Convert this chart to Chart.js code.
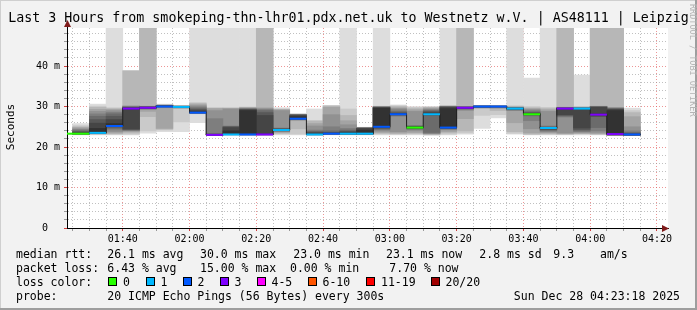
<!DOCTYPE html>
<html>
<head>
<meta charset="utf-8">
<script src="https://cdn.jsdelivr.net/npm/chart.js@4/dist/chart.umd.min.js"></script>
<style>
  html, body { margin: 0; padding: 0; background: #f2f2f2; }
  canvas { display: block; }
</style>
</head>
<body>
<canvas id="myChart" width="697" height="310"></canvas>
<script>
// graph window and 5 minute steps
const graphStart = "01:23:18";
const graphEnd = "04:23:18";
const stepLabels = [
  "01:25", "01:30", "01:35", "01:40", "01:45", "01:50", "01:55",
  "02:00", "02:05", "02:10", "02:15", "02:20", "02:25", "02:30", "02:35", "02:40", "02:45", "02:50", "02:55",
  "03:00", "03:05", "03:10", "03:15", "03:20", "03:25", "03:30", "03:35", "03:40", "03:45", "03:50", "03:55",
  "04:00", "04:05", "04:10",
];
const medians = [
  23.3, 23.5, 25.2, 29.5, 29.7, 30.0, 29.9, 28.5, 23.0, 23.1, 23.1, 23.1, 24.2, 27.0, 23.1, 23.3, 23.3,
  23.3, 25.0, 28.1, 24.8, 28.1, 24.8, 29.7, 30.0, 30.0, 29.5, 28.1, 24.7, 29.5, 29.5, 28.0, 23.2, 23.1,
];
const lossCounts = [
  0, 1, 2, 3, 3, 2, 1, 2, 3, 1, 2, 3, 1, 2, 1, 2, 1, 1, 2, 2, 0, 1, 2, 3, 2, 2, 1, 0, 1, 3, 1, 3, 3, 2,
];
// sorted ping rtts (ms) of each step, 60 = above the top of the graph
const smokePings = [
  [23.0, 23.05, 23.1, 23.1, 23.15, 23.2, 23.2, 23.25, 23.3, 23.3, 23.4, 23.6, 23.8, 24.0, 24.3, 24.5, 24.8, 25.0, 25.3, 25.8],
  [23.0, 23.1, 23.2, 23.3, 23.3, 23.4, 23.4, 23.5, 23.5, 23.5, 24.6, 25.9, 26.8, 27.6, 28.2, 28.8, 29.3, 29.8, 30.1, 30.6],
  [23.0, 23.1, 23.3, 23.5, 23.8, 24.2, 24.6, 24.9, 25.1, 25.2, 25.8, 26.8, 27.6, 28.2, 28.6, 29.0, 29.3, 29.5, 29.7, 60],
  [23.0, 23.2, 23.5, 23.8, 24.0, 24.1, 24.2, 24.3, 24.5, 29.4, 29.6, 29.7, 29.8, 29.9, 30.0, 30.1, 30.2, 38.8, 38.8, 38.8],
  [23.4, 24.0, 27.5, 28.8, 29.3, 29.4, 29.5, 29.6, 29.65, 29.7, 29.8, 29.85, 29.9, 29.95, 30.0, 30.0, 30.1, 60, 60, 60],
  [23.8, 24.2, 24.4, 24.6, 29.7, 29.8, 29.9, 30.0, 30.0, 30.0, 30.1, 30.15, 30.2, 30.2, 30.25, 30.3, 30.35, 30.4, 30.5, 30.6],
  [23.8, 26.2, 29.5, 29.6, 29.7, 29.8, 29.85, 29.9, 29.95, 29.95, 30.0, 30.0, 30.05, 30.05, 30.1, 30.1, 30.1, 30.15, 30.15, 30.2],
  [26.0, 28.2, 28.25, 28.3, 28.35, 28.4, 28.4, 28.45, 28.5, 28.5, 28.7, 29.0, 29.3, 29.6, 29.9, 30.2, 30.5, 30.8, 31.0, 60],
  [22.9, 22.9, 22.95, 22.95, 23.0, 23.0, 23.0, 23.0, 23.0, 23.0, 23.05, 23.1, 23.2, 23.3, 27.0, 29.0, 29.5, 29.6, 29.7, 60],
  [23.0, 23.0, 23.0, 23.0, 23.05, 23.05, 23.1, 23.1, 23.1, 23.1, 24.0, 24.8, 25.0, 25.1, 25.2, 29.4, 29.5, 29.6, 29.7, 60],
  [22.9, 22.9, 22.95, 23.0, 23.0, 23.05, 23.05, 23.1, 23.1, 23.1, 29.0, 29.2, 29.3, 29.4, 29.5, 29.6, 29.7, 29.8, 29.9, 60],
  [22.9, 22.95, 23.0, 23.0, 23.0, 23.05, 23.05, 23.1, 23.1, 23.1, 23.2, 27.8, 28.5, 29.0, 29.3, 29.5, 29.7, 60, 60, 60],
  [23.0, 23.2, 23.4, 23.6, 23.8, 23.9, 24.0, 24.1, 24.15, 24.2, 24.3, 24.4, 24.5, 24.6, 24.7, 29.0, 29.2, 29.3, 29.4, 29.7],
  [23.0, 23.2, 24.5, 26.5, 26.7, 26.8, 26.85, 26.9, 26.95, 27.0, 27.5, 27.8, 27.9, 28.0, 28.0, 28.05, 28.1, 28.1, 28.1, 28.2],
  [22.9, 22.95, 23.0, 23.0, 23.05, 23.05, 23.1, 23.1, 23.1, 23.1, 23.3, 23.5, 23.7, 23.9, 24.2, 25.2, 25.8, 26.4, 26.6, 29.4],
  [23.0, 23.05, 23.1, 23.1, 23.15, 23.2, 23.2, 23.25, 23.3, 23.3, 23.4, 23.5, 23.6, 24.0, 25.0, 28.0, 29.8, 30.1, 30.2, 30.3],
  [23.0, 23.05, 23.1, 23.1, 23.15, 23.2, 23.2, 23.25, 23.3, 23.3, 23.5, 23.7, 23.9, 24.2, 24.6, 25.5, 26.5, 27.8, 29.4, 60],
  [23.0, 23.05, 23.1, 23.1, 23.15, 23.2, 23.2, 23.25, 23.3, 23.3, 24.2, 24.6, 24.65, 24.7, 24.7, 24.75, 24.8, 24.8, 24.85, 24.9],
  [23.0, 23.2, 23.4, 23.6, 23.9, 24.2, 24.4, 24.6, 24.8, 25.0, 29.6, 29.7, 29.8, 29.85, 29.9, 29.95, 30.0, 30.05, 30.1, 60],
  [23.0, 23.1, 23.3, 23.5, 23.8, 27.6, 27.8, 27.9, 28.0, 28.1, 28.2, 28.3, 28.5, 28.8, 29.2, 29.5, 29.7, 30.0, 30.2, 30.4],
  [23.0, 23.2, 23.4, 23.6, 24.0, 24.3, 24.5, 24.6, 24.7, 24.8, 24.9, 25.0, 25.1, 25.2, 25.3, 28.8, 29.2, 29.5, 29.8, 30.0],
  [22.9, 23.0, 23.1, 23.2, 23.3, 23.4, 23.6, 27.8, 28.0, 28.1, 28.3, 28.5, 28.8, 29.0, 29.2, 29.4, 29.6, 29.8, 29.9, 30.0],
  [23.0, 23.2, 23.5, 23.8, 24.2, 24.4, 24.5, 24.6, 24.7, 24.8, 29.5, 29.8, 29.9, 29.95, 30.0, 30.05, 30.1, 30.15, 30.2, 60],
  [23.2, 23.5, 24.0, 27.0, 29.0, 29.3, 29.4, 29.5, 29.6, 29.7, 29.75, 29.8, 29.85, 29.9, 29.95, 30.0, 30.05, 60, 60, 60],
  [24.6, 27.8, 29.6, 29.65, 29.7, 29.75, 29.8, 29.85, 29.9, 29.95, 30.0, 30.05, 30.1, 30.12, 30.15, 30.18, 30.2, 30.25, 30.28, 30.3],
  [27.2, 28.0, 29.0, 29.5, 29.7, 29.8, 29.85, 29.9, 29.93, 29.96, 30.0, 30.03, 30.06, 30.1, 30.13, 30.16, 30.2, 30.23, 30.26, 30.3],
  [23.2, 23.4, 23.8, 26.0, 29.0, 29.1, 29.2, 29.3, 29.4, 29.5, 29.55, 29.6, 29.65, 29.7, 29.75, 29.8, 29.9, 30.0, 30.2, 60],
  [23.0, 23.1, 23.2, 23.5, 24.5, 26.5, 27.7, 27.9, 28.0, 28.1, 28.2, 28.3, 28.5, 28.7, 29.0, 29.3, 29.5, 29.7, 30.0, 37.0],
  [23.0, 23.1, 23.3, 23.5, 23.7, 23.9, 24.1, 24.3, 24.5, 24.7, 24.75, 24.8, 24.9, 25.0, 25.2, 28.8, 29.2, 29.5, 29.8, 60],
  [23.0, 23.1, 23.2, 23.3, 23.5, 27.4, 27.6, 27.8, 28.0, 29.5, 29.55, 29.6, 29.65, 29.7, 29.75, 29.8, 29.85, 60, 60, 60],
  [23.0, 23.2, 23.3, 23.4, 23.6, 23.8, 24.0, 24.3, 24.7, 29.5, 29.55, 29.58, 29.6, 29.65, 29.7, 29.75, 29.8, 29.9, 30.0, 37.8],
  [23.0, 23.1, 23.2, 23.3, 23.6, 24.0, 24.8, 27.5, 27.7, 28.0, 28.2, 29.8, 29.9, 29.95, 30.0, 30.05, 30.1, 60, 60, 60],
  [22.9, 22.9, 22.9, 22.95, 22.95, 23.0, 23.0, 23.0, 23.1, 23.2, 29.0, 29.3, 29.4, 29.5, 29.6, 29.7, 29.8, 60, 60, 60],
  [22.8, 22.85, 22.9, 22.9, 22.95, 22.95, 23.0, 23.0, 23.0, 23.0, 23.1, 23.2, 23.4, 23.6, 24.0, 25.0, 27.5, 28.5, 29.0, 29.6],
];

const xTickLabels = ["01:40", "02:00", "02:20", "02:40", "03:00", "03:20", "03:40", "04:00", "04:20"];
const yTickValues = [0, 10, 20, 30, 40];
const yTickLabels = ["0  ", "10 m", "20 m", "30 m", "40 m"];
const yMax = 49.4;

const lossLabels = ["0", "1", "2", "3", "4-5", "6-10", "11-19", "20/20"];
const lossColors = ["#26ff00", "#00b8ff", "#0059ff", "#7e00ff", "#ff00ff", "#ff5500", "#ff0000", "#a00000"];

const titleText = "Last 3 Hours from smokeping-thn-lhr01.pdx.net.uk to Westnetz w.V. | AS48111 | Leipzig";
const rttStats = ["median rtt:", "26.1 ms avg", "30.0 ms max", "23.0 ms min", "23.1 ms now", "2.8 ms sd", "9.3", "am/s"];
const lossStats = ["packet loss:", "6.43 % avg", "15.00 % max", "0.00 % min", "7.70 % now"];
const probeText = ["probe:", "20 ICMP Echo Pings (56 Bytes) every 300s", "Sun Dec 28 04:23:18 2025"];

// smoke shades, outer pair of pings first
const smokeShades = ["#dddddd", "#cacaca", "#b7b7b7", "#a4a4a4", "#919191", "#7e7e7e", "#6b6b6b", "#585858", "#454545", "#323232"];

function toMin(s) {
  const p = s.split(":").map(Number);
  return p[0] * 60 + p[1] + (p[2] || 0) / 60;
}
function lossBucket(n) {
  if (n <= 3) return n;
  if (n <= 5) return 4;
  if (n <= 10) return 5;
  if (n <= 19) return 6;
  return 7;
}

const xMin = toMin(graphStart);
const xMax = toMin(graphEnd);
const stepLen = 5;
const stepStarts = stepLabels.map(toMin);
const xMajor = xTickLabels.map(toMin);

const xGrid = [];
for (let t = Math.ceil(xMin / stepLen) * stepLen; t < xMax; t += stepLen) xGrid.push(t);
const yGrid = [];
for (let v = 0; v < yMax; v += 2) yGrid.push(v);

const smokeSets = smokeShades.map((shade, k) => ({
  type: "bar",
  order: 20 - k,
  data: stepStarts.map((t, i) => ({ x: t + stepLen / 2, y: [smokePings[i][k], smokePings[i][19 - k]] })),
  backgroundColor: shade,
  borderWidth: 0,
  barPercentage: 1,
  categoryPercentage: 1,
  grouped: false,
  clip: 0,
}));

const last = stepStarts.length - 1;
const medianPath = stepStarts.map((t, i) => ({ x: i === 0 ? xMin : t, y: medians[i] }));
medianPath.push({ x: stepStarts[last] + stepLen, y: medians[last] });

const medianSegs = [];
stepStarts.forEach((t, i) => {
  medianSegs.push({ x: i === 0 ? xMin : t, y: medians[i] });
  medianSegs.push({ x: t + stepLen, y: medians[i] });
  medianSegs.push({ x: t + stepLen, y: null });
});

const mono = '"DejaVu Sans Mono", monospace';
const minorGrid = "rgba(150,150,150,0.6)";
const majorGrid = "rgba(225,80,80,0.6)";

const rrdFrame = {
  id: "rrdFrame",
  beforeDraw(chart) {
    const { ctx, chartArea: a } = chart;
    ctx.save();
    ctx.fillStyle = "#f2f2f2";
    ctx.fillRect(0, 0, chart.width, chart.height);
    ctx.fillStyle = "#ffffff";
    ctx.fillRect(a.left, a.top, a.right - a.left, a.bottom - a.top);
    ctx.restore();
  },
  afterDraw(chart) {
    const { ctx, chartArea: a } = chart;
    const W = chart.width, H = chart.height;
    ctx.save();
    // shaded frame
    ctx.fillStyle = "#cfcfcf";
    ctx.fillRect(0, 0, W, 1);
    ctx.fillRect(0, 0, 1, H);
    ctx.fillStyle = "#9e9e9e";
    ctx.fillRect(0, H - 2, W, 2);
    ctx.fillRect(W - 2, 0, 2, H);

    // axis arrows
    ctx.fillStyle = "#7f1a1a";
    ctx.strokeStyle = "#000";
    ctx.lineWidth = 1;
    ctx.beginPath();
    ctx.moveTo(a.left + 0.5, a.top);
    ctx.lineTo(a.left + 0.5, a.top - 2);
    ctx.stroke();
    ctx.beginPath();
    ctx.moveTo(a.left - 3, a.top - 1);
    ctx.lineTo(a.left + 4, a.top - 1);
    ctx.lineTo(a.left + 0.5, a.top - 8);
    ctx.closePath();
    ctx.fill();
    ctx.beginPath();
    ctx.moveTo(a.right - 6, a.bottom - 3);
    ctx.lineTo(a.right - 6, a.bottom + 4);
    ctx.lineTo(a.right + 1, a.bottom + 0.5);
    ctx.closePath();
    ctx.fill();

    // title
    ctx.fillStyle = "#000";
    ctx.font = "13.3px " + mono;
    ctx.textBaseline = "alphabetic";
    ctx.textAlign = "center";
    ctx.fillText(titleText, W / 2, 22);

    // watermark
    ctx.save();
    ctx.translate(690, 4);
    ctx.rotate(Math.PI / 2);
    ctx.font = "8.5px " + mono;
    ctx.fillStyle = "#b4b4b4";
    ctx.textAlign = "left";
    ctx.fillText("RRDTOOL / TOBI OETIKER", 0, 0);
    ctx.restore();

    // y axis title
    ctx.save();
    ctx.translate(14, 127);
    ctx.rotate(-Math.PI / 2);
    ctx.font = "11px " + mono;
    ctx.fillStyle = "#000";
    ctx.textAlign = "center";
    ctx.fillText("Seconds", 0, 0);
    ctx.restore();

    // legend block
    ctx.font = "11.5px " + mono;
    ctx.fillStyle = "#000";
    ctx.textAlign = "left";
    const rttX = [16, 107.3, 200, 293.3, 386, 479.3, 553.3, 600];
    rttStats.forEach((s, i) => ctx.fillText(s, rttX[i], 258));
    const lossX = [16, 107.3, 200, 290, 389.3];
    lossStats.forEach((s, i) => ctx.fillText(s, lossX[i], 272));
    ctx.fillText("loss color:", 16, 286);
    const boxX = [108, 145.5, 182.5, 219.5, 256.5, 307.5, 366, 430.5];
    lossLabels.forEach((lab, i) => {
      const bx = Math.round(boxX[i]);
      ctx.fillStyle = lossColors[i];
      ctx.fillRect(bx, 277, 9, 9);
      ctx.strokeStyle = "#000";
      ctx.strokeRect(bx + 0.5, 277.5, 8, 8);
      ctx.fillStyle = "#000";
      ctx.fillText(lab, boxX[i] + 15, 286);
    });
    ctx.fillText(probeText[0], 16, 300);
    ctx.fillText(probeText[1], 107.3, 300);
    ctx.textAlign = "right";
    ctx.fillText(probeText[2], 680, 300);
    ctx.restore();
  },
};

const ctx = document.getElementById("myChart").getContext("2d");
const myChart = new Chart(ctx, {
  type: "bar",
  data: {
    datasets: [
      ...smokeSets,
      {
        type: "line",
        order: 1,
        data: medianPath,
        stepped: true,
        borderColor: "#202020",
        borderWidth: 1,
        pointRadius: 0,
        clip: 0,
      },
      {
        type: "line",
        order: 0,
        data: medianSegs,
        borderWidth: 2,
        borderColor: lossColors[0],
        borderCapStyle: "butt",
        pointRadius: 0,
        spanGaps: false,
        clip: 0,
        segment: {
          borderColor: (c) => lossColors[lossBucket(lossCounts[Math.floor(c.p0DataIndex / 3)])],
        },
      },
    ],
  },
  options: {
    responsive: false,
    animation: false,
    devicePixelRatio: 1,
    layout: { padding: { top: 28, right: 29, left: 0, bottom: 0 } },
    plugins: { legend: { display: false }, title: { display: false }, tooltip: { enabled: false } },
    scales: {
      x: {
        type: "linear",
        min: xMin,
        max: xMax,
        offset: false,
        z: 1,
        afterFit: (s) => { s.height = 82; },
        afterBuildTicks: (s) => { s.ticks = xGrid.map((v) => ({ value: v })); },
        ticks: {
          autoSkip: false,
          maxRotation: 0,
          padding: 2,
          color: "#000",
          font: { family: mono, size: 10 },
          callback: (v) => { const i = xMajor.indexOf(v); return i >= 0 ? xTickLabels[i] : ""; },
        },
        grid: {
          offset: false,
          tickLength: 3,
          color: (c) => (xMajor.includes(c.tick.value) ? majorGrid : minorGrid),
          tickColor: (c) => (xMajor.includes(c.tick.value) ? "#d04040" : "#999"),
        },
        border: { color: "#000", width: 1, dash: [1, 2] },
      },
      y: {
        type: "linear",
        min: 0,
        max: yMax,
        z: 1,
        afterFit: (s) => { s.width = 67; },
        afterBuildTicks: (s) => { s.ticks = yGrid.map((v) => ({ value: v })); },
        ticks: {
          autoSkip: false,
          padding: 4,
          color: "#000",
          font: { family: mono, size: 10 },
          callback: (v) => { const i = yTickValues.indexOf(v); return i >= 0 ? yTickLabels[i] : ""; },
        },
        grid: {
          tickLength: 3,
          color: (c) => (yTickValues.includes(c.tick.value) ? majorGrid : minorGrid),
          tickColor: (c) => (yTickValues.includes(c.tick.value) ? "#d04040" : "#999"),
        },
        border: { color: "#000", width: 1, dash: [1, 2] },
      },
    },
  },
  plugins: [rrdFrame],
});
</script>
</body>
</html>
